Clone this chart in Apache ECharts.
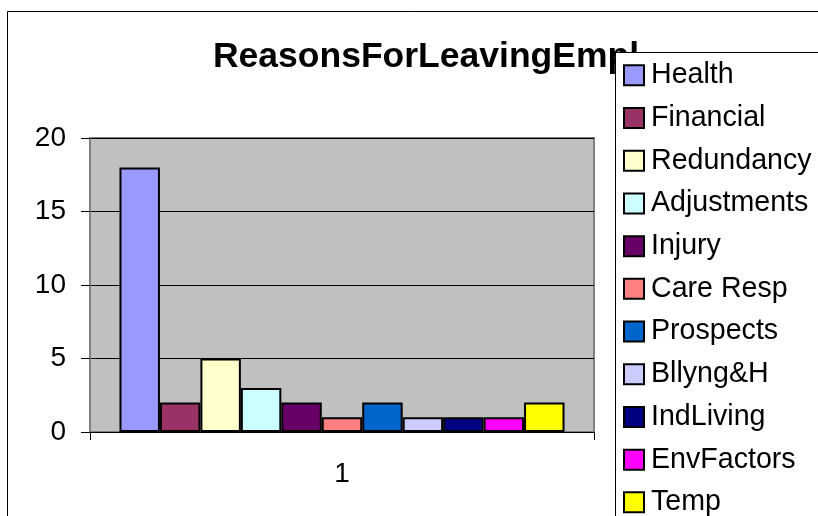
<!DOCTYPE html>
<html>
<head>
<meta charset="utf-8">
<style>
  html, body { margin: 0; padding: 0; background: #fff; }
  #chart { width: 818px; height: 516px; }
</style>
<script src="https://cdn.jsdelivr.net/npm/echarts@6/dist/echarts.min.js"></script>
</head>
<body>
<div id="chart"></div>
<script>
// Reasons for leaving employment: one category, one bar per reason
const categories = ['1'];
const reasons = ['Health', 'Financial', 'Redundancy', 'Adjustments', 'Injury', 'Care Resp',
                 'Prospects', 'Bllyng&H', 'IndLiving', 'EnvFactors', 'Temp'];
const counts = [18, 2, 5, 3, 2, 1, 2, 1, 1, 1, 2];
const colors = ['#9999FF', '#993366', '#FFFFCC', '#CCFFFF', '#660066', '#FF8080',
                '#0066CC', '#CCCCFF', '#000080', '#FF00FF', '#FFFF00'];
const yTicks = { min: 0, max: 20, interval: 5 };

const FONT = '"Liberation Sans", Arial, sans-serif';

const chart = echarts.init(document.getElementById('chart'), null, { renderer: 'canvas' });

const series = reasons.map((name, i) => ({
  name: name,
  type: 'bar',
  data: [counts[i]],
  barGap: '0%',
  barCategoryGap: '11.7%',
  itemStyle: { color: colors[i], borderColor: '#000', borderWidth: 2 },
  emphasis: { disabled: true },
  animation: false,
  z: 3
}));

chart.setOption({
  animation: false,
  backgroundColor: '#fff',
  title: {
    text: 'ReasonsForLeavingEmpl',
    left: 426, top: 39,
    textAlign: 'center',
    padding: 0,
    z: 1,
    textStyle: { fontFamily: FONT, fontWeight: 'bold', fontSize: 35.5, color: '#000' }
  },
  graphic: [
    {
      // outer chart frame
      type: 'rect', z: 0, silent: true,
      shape: { x: 7.5, y: 11.5, width: 1000, height: 1000 },
      style: { fill: null, stroke: '#000', lineWidth: 1 }
    },
    {
      // legend frame, runs past the page edge
      type: 'rect', z: 5, silent: true,
      shape: { x: 615.5, y: 52.5, width: 400, height: 600 },
      style: { fill: '#fff', stroke: '#000', lineWidth: 1 }
    }
  ],
  legend: {
    orient: 'vertical',
    left: 623, top: 54,
    height: 1000,
    padding: 0,
    itemGap: 0,
    itemWidth: 20, itemHeight: 20,
    icon: 'rect',
    z: 10,
    selectedMode: false,
    data: reasons,
    itemStyle: { borderColor: '#000', borderWidth: 2 },
    textStyle: { fontFamily: FONT, fontSize: 28.6, color: '#000', lineHeight: 42.7, padding: [0, 0, 0, 2] }
  },
  grid: {
    left: 90, top: 138, right: 224, bottom: 84,
    show: true,
    backgroundColor: '#C0C0C0',
    borderColor: '#808080',
    borderWidth: 2
  },
  xAxis: {
    type: 'category',
    data: categories,
    axisLine: { show: true, lineStyle: { color: '#000', width: 1 } },
    axisTick: { show: true, length: 8, lineStyle: { color: '#000', width: 1 } },
    axisLabel: { fontFamily: FONT, fontSize: 28, color: '#000', margin: 28 },
    splitLine: { show: false }
  },
  yAxis: {
    type: 'value',
    min: yTicks.min, max: yTicks.max, interval: yTicks.interval,
    axisLine: { show: true, lineStyle: { color: '#808080', width: 2 } },
    axisTick: { show: true, length: 9, lineStyle: { color: '#000', width: 1 } },
    axisLabel: { fontFamily: FONT, fontSize: 28, color: '#000', margin: 24 },
    splitLine: { show: true, lineStyle: { color: '#000', width: 1 } }
  },
  series: series
});
</script>
</body>
</html>
